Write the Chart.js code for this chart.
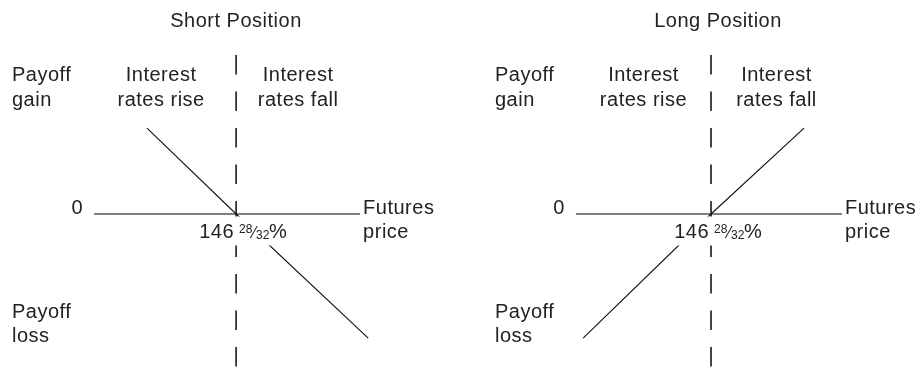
<!DOCTYPE html>
<html>
<head>
<meta charset="utf-8">
<title>Futures payoff</title>
<script src="https://cdn.jsdelivr.net/npm/chart.js@4"></script>
<style>
  html, body { margin: 0; padding: 0; background: #fff; }
  #wrap { display: flex; width: 924px; height: 368px; }
  canvas { display: block; }
</style>
</head>
<body>
<div id="wrap">
  <canvas id="short" width="462" height="368"></canvas>
  <canvas id="long" width="462" height="368"></canvas>
</div>
<script>
// futures price where both payoff lines cross zero
const strike = 146 + 28 / 32;

// short position: gains when price falls (rates rise)
const shortPrice = [143.91, strike, 151.27];
const shortPayoff = [3.0, 0, -4.34];
const shortAxis = [142.15, 151.0];

// long position: gains when price rises (rates fall)
const longPrice = [142.62, strike, 149.97];
const longPayoff = [-4.34, 0, 3.0];
const longAxis = [142.38, 151.23];

// vertical dashed reference at the strike
const strikeSpan = [5.56, -5.4];

const FONT = '"Liberation Sans", Arial, Helvetica, sans-serif';
const INK = '#222';

function pts(xs, ys) {
    return xs.map((x, i) => ({ x: x, y: ys[i] }));
}

// text layer, drawn on top of the lines
const labels = {
    id: 'labels',
    afterDatasetsDraw(chart, args, o) {
        const c = chart.ctx;
        const xs = chart.scales.x, ys = chart.scales.y;
        const sx = xs.getPixelForValue(strike);
        const y0 = ys.getPixelForValue(0);
        c.save();
        c.letterSpacing = '0.5px';

        // strike label "146 28/32%" sits on a white patch
        c.font = '20px ' + FONT;
        const w146 = c.measureText('146').width;
        const wPct = c.measureText('%').width;
        const left = sx - 2 - w146;
        const right = sx + 33 + wPct;
        c.fillStyle = '#fff';
        c.fillRect(left - 3, y0 + 2.5, right - left + 5, 29);

        c.fillStyle = INK;
        c.textBaseline = 'alphabetic';
        c.textAlign = 'right';
        c.fillText('146', sx - 2, y0 + 24);
        c.textAlign = 'left';
        c.letterSpacing = '0px';
        c.font = '12px ' + FONT;
        c.fillText('28', sx + 3, y0 + 19);
        c.fillText('32', sx + 20, y0 + 25);
        c.font = '16px ' + FONT;
        c.fillText('\u2044', sx + 17, y0 + 24);
        c.font = '20px ' + FONT;
        c.fillText('%', sx + 33, y0 + 24);
        c.letterSpacing = '0.5px';

        // zero tick and x axis name
        const a0 = xs.getPixelForValue(o.axis[0]);
        const a1 = xs.getPixelForValue(o.axis[1]);
        c.textAlign = 'right';
        c.fillText('0', a0 - 11, y0);
        c.textAlign = 'left';
        c.fillText('Futures', a1 + 3, y0);
        c.fillText('price', a1 + 3, y0 + 24);

        // title
        c.textAlign = 'center';
        c.fillText(o.title, o.titleX, 27);

        // payoff side notes
        c.textAlign = 'left';
        c.fillText('Payoff', o.noteX, 81);
        c.fillText('gain', o.noteX, 106);
        c.fillText('Payoff', o.noteX, 318);
        c.fillText('loss', o.noteX, 342);

        // rate direction either side of the strike
        c.textAlign = 'center';
        const rise = (a0 + sx) / 2 + o.riseShift;
        const fall = (sx + a1) / 2;
        c.fillText('Interest', rise, 81);
        c.fillText('rates rise', rise, 106);
        c.fillText('Interest', fall, 81);
        c.fillText('rates fall', fall, 106);
        c.restore();
    }
};

function panel(id, price, payoff, axis, xMin, xMax, text) {
    return new Chart(document.getElementById(id), {
        type: 'scatter',
        data: {
            datasets: [
                {
                    data: pts(price, payoff),
                    showLine: true,
                    borderColor: '#111',
                    borderWidth: 1.1,
                    pointRadius: 0,
                },
                {
                    data: pts(axis, [0, 0]),
                    showLine: true,
                    borderColor: '#555',
                    borderWidth: 1.6,
                    pointRadius: 0,
                },
                {
                    data: pts([strike, strike], strikeSpan),
                    showLine: true,
                    borderColor: '#333',
                    borderWidth: 1.8,
                    borderDash: [19.5, 17],
                    pointRadius: 0,
                }
            ]
        },
        options: {
            responsive: false,
            animation: false,
            events: [],
            layout: { padding: 0 },
            scales: {
                x: { type: 'linear', display: false, min: xMin, max: xMax },
                y: { type: 'linear', display: false, min: -5.385, max: 7.483 }
            },
            plugins: {
                legend: { display: false },
                tooltip: { enabled: false },
                labels: Object.assign({ axis: axis }, text)
            }
        },
        plugins: [labels]
    });
}

panel('short', shortPrice, shortPayoff, shortAxis, 139.02, 154.39,
    { title: 'Short Position', titleX: 236, noteX: 12, riseShift: -4 });
panel('long', longPrice, longPayoff, longAxis, 138.59, 153.96,
    { title: 'Long Position', titleX: 256, noteX: 33, riseShift: 0 });
</script>
</body>
</html>
